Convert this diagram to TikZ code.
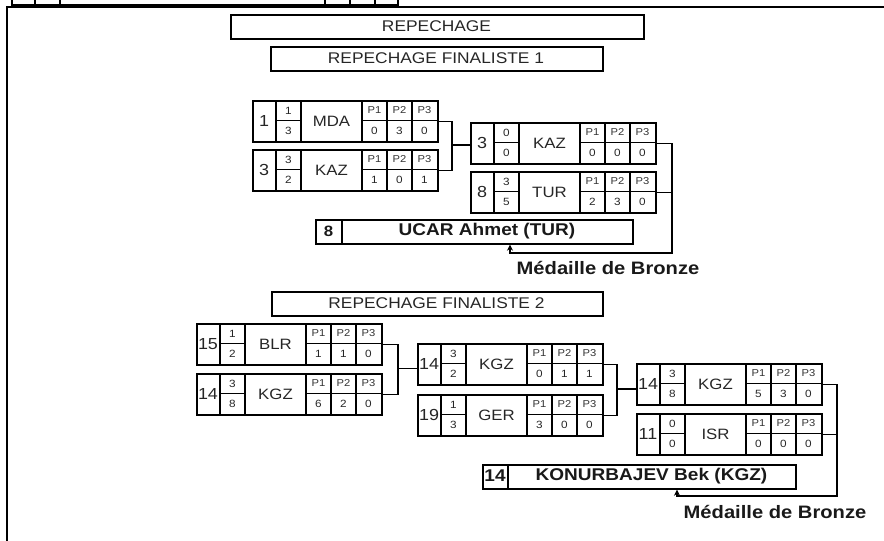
\documentclass[tikz,border=0pt]{standalone}
\usepackage{fontspec}
\setmainfont{Liberation Sans}[FakeStretch=1.12]
\usetikzlibrary{arrows.meta}
\tikzset{
  frameln/.style={line width=2pt},
  mbox/.style={draw, line width=1.6pt, minimum width=185pt, minimum height=41pt, inner sep=0pt},
  tbox/.style={draw, line width=1.7pt, inner sep=0pt, minimum height=24pt},
  cell/.style={line width=1.3pt},
  conn/.style={line width=1.3pt},
  titlef/.style={font=\fontsize{15.5}{17}\selectfont, text=black!85},
  seedf/.style={font=\fontsize{16}{18}\selectfont, text=black!85, inner sep=0pt},
  smallf/.style={font=\fontsize{10.5}{12}\selectfont, text=black!85, inner sep=0pt},
  plabf/.style={font=\fontsize{10}{11}\selectfont, text=black!80, inner sep=0pt},
  namef/.style={font=\fontsize{15}{17}\selectfont, text=black!85, inner sep=0pt},
  winf/.style={font=\bfseries\fontsize{17}{19}\selectfont, text=black!90, inner sep=0pt},
  medalf/.style={font=\bfseries\fontsize{18}{20}\selectfont, text=black!90, inner sep=0pt},
  tip/.style={-{Stealth[length=6pt,width=6pt]}}
}
\newcommand\matchbx[8]{%
  \node[mbox, anchor=north west] (#1) at (#2,#3) {};
  \begin{scope}[shift={(#2,#3)}]
    \draw[cell] (24,0) -- (24,41) (49,0) -- (49,41) (110,0) -- (110,41)
      (135,0) -- (135,41) (160,0) -- (160,41)
      (24,20.5) -- (49,20.5) (110,20.5) -- (185,20.5);
    \node[seedf] (#1-seed) at (12,21) {#4};
    \node[smallf] (#1-sa) at (36.5,10.5) {#5};
    \node[smallf] (#1-sb) at (36.5,31) {#6};
    \node[namef] (#1-name) at (79.5,21) {#7};
    \node[plabf] (#1-p1) at (122.5,10.5) {P1};
    \node[plabf] (#1-p2) at (147.5,10.5) {P2};
    \node[plabf] (#1-p3) at (172.5,10.5) {P3};
    \foreach \v [count=\i] in {#8} {\node[smallf] (#1-v\i) at ({97.5+25*\i},31) {\v};}
  \end{scope}}
\begin{document}
\begin{tikzpicture}[x=1pt,y=-1pt]
\useasboundingbox (0,0) rectangle (884,541);
\clip (0,0) rectangle (884,541);
% top strip and frame
\draw[frameln] (12,-4) rectangle (398,5);
\draw[frameln] (35,-4) -- (35,5) (60,-4) -- (60,5) (325,-4) -- (325,5) (350,-4) -- (350,5) (375,-4) -- (375,5);
\draw[frameln] (7,545) -- (7,7) -- (890,7);
% titles
\node[tbox, minimum width=413pt, anchor=north west] (rep) at (230,14) {};
\node[titlef] (repT) at (436.5,26) {REPECHAGE};
\node[tbox, minimum width=332pt, anchor=north west] (rf1) at (270,46) {};
\node[titlef] (rf1T) at (436,58) {REPECHAGE FINALISTE 1};
\node[tbox, minimum width=331pt, anchor=north west] (rf2) at (271,291) {};
\node[titlef] (rf2T) at (436.5,303) {REPECHAGE FINALISTE 2};
% bracket 1
\matchbx{mda}{252}{100}{1}{1}{3}{MDA}{0,3,0}
\matchbx{kaza}{252}{149}{3}{3}{2}{KAZ}{1,0,1}
\matchbx{kazb}{470}{122}{3}{0}{0}{KAZ}{0,0,0}
\matchbx{tur}{470}{171}{8}{3}{5}{TUR}{2,3,0}
\coordinate (j1) at (452,145);
\draw[conn] (mda.east) -| (j1) |- (kaza.east);
\draw[conn] (j1) -- (j1 -| kazb.west);
% winner 1
\node[tbox, minimum width=317pt, anchor=north west] (ucar) at (315,219) {};
\draw[cell] (342,219) -- (342,243);
\node[winf, font=\bfseries\fontsize{15}{17}\selectfont] (ucarS) at (328.5,231) {8};
\node[winf] (ucarN) at (487,231) {UCAR Ahmet (TUR)};
\coordinate (c1) at (672,253);
\coordinate (a1) at (510,253);
\draw[conn, tip] (kazb.east) -| (c1) -- (a1) -- (a1 |- ucar.south);
\draw[conn] (tur.east) -- (tur.east -| c1);
\node[medalf] (med1) at (608,268) {Médaille de Bronze};
% bracket 2
\matchbx{blr}{196}{323}{15}{1}{2}{BLR}{1,1,0}
\matchbx{kgza}{196}{373}{14}{3}{8}{KGZ}{6,2,0}
\matchbx{kgzb}{417}{343}{14}{3}{2}{KGZ}{0,1,1}
\matchbx{ger}{417}{394}{19}{1}{3}{GER}{3,0,0}
\matchbx{kgzc}{636}{363}{14}{3}{8}{KGZ}{5,3,0}
\matchbx{isr}{636}{413}{11}{0}{0}{ISR}{0,0,0}
\coordinate (j2) at (398,368.5);
\draw[conn] (blr.east) -| (j2) |- (kgza.east);
\draw[conn] (j2) -- (j2 -| kgzb.west);
\coordinate (j3) at (617,389);
\draw[conn] (kgzb.east) -| (j3) |- (ger.east);
\draw[conn] (j3) -- (j3 -| kgzc.west);
% winner 2
\node[tbox, minimum width=313pt, anchor=north west] (kon) at (482,464) {};
\draw[cell] (508,464) -- (508,488);
\node[winf] (konS) at (495,476) {14};
\node[winf] (konN) at (651.5,476) {KONURBAJEV Bek (KGZ)};
\coordinate (c2) at (837,496);
\coordinate (a2) at (677,496);
\draw[conn, tip] (kgzc.east) -| (c2) -- (a2) -- (a2 |- kon.south);
\draw[conn] (isr.east) -- (isr.east -| c2);
\node[medalf] (med2) at (775,512) {Médaille de Bronze};
\end{tikzpicture}
\end{document}
